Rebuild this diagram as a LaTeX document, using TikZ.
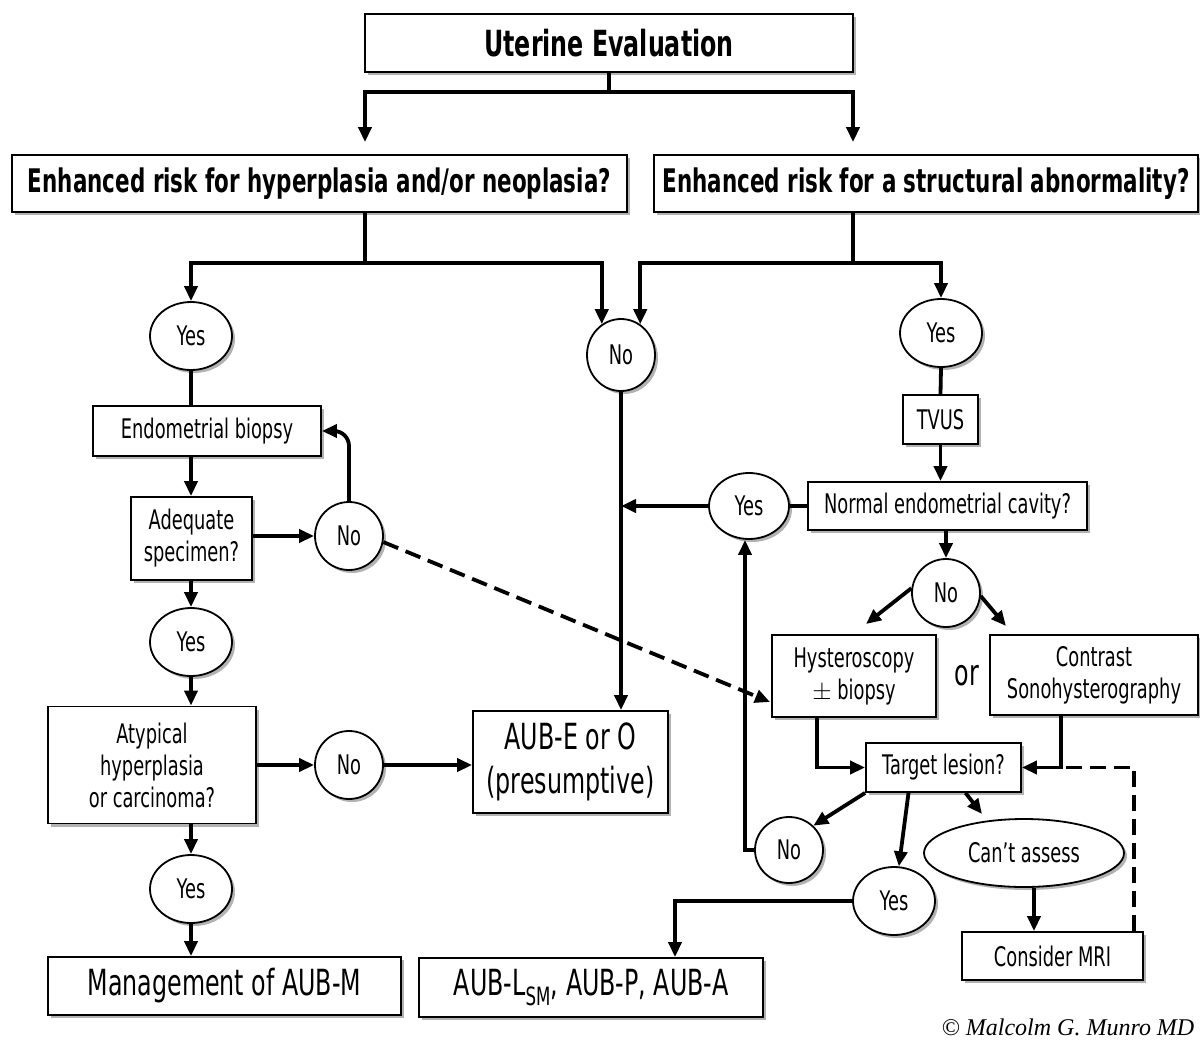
\documentclass[tikz,border=0pt]{standalone}
\usepackage{fontspec}
\setmainfont{DejaVu Sans}[FakeStretch=0.66]
\newfontfamily\crfont{Liberation Serif}
\usetikzlibrary{arrows.meta,shapes.geometric,shadows}
\newcommand\fnorm{\fontsize{27}{32}\selectfont}
\newcommand\fbig{\fontsize{36}{44}\selectfont}
\newcommand\ftitle{\fontsize{36}{40}\selectfont\bfseries}
\newcommand\fq{\fontsize{32.5}{36}\selectfont\bfseries}
\begin{document}
\begin{tikzpicture}[x=1pt,y=-1pt,
  base/.style={draw=black, line width=1.8pt, fill=white, inner sep=0pt, align=center,
    drop shadow={shadow xshift=3pt, shadow yshift=-3pt, opacity=0.3, fill=black}},
  box/.style={base, rectangle, font=\fnorm},
  bigbox/.style={base, rectangle, font=\fbig},
  circ/.style={base, ellipse, minimum width=68pt, minimum height=68pt, font=\fnorm},
  ycirc/.style={circ, minimum width=82pt},
  conn/.style={line width=3.8pt},
  arr/.style={conn, -{Triangle[length=15pt,width=13pt]}},
  darr/.style={arr, dash pattern=on 16pt off 8pt},
  dline/.style={conn, dash pattern=on 16pt off 8pt}]
\useasboundingbox[fill=white] (0,0) rectangle (1200,1041);

% nodes
\node[box, font=\ftitle, minimum width=488pt, minimum height=58pt] (title) at (609,43) {Uterine Evaluation};
\node[box, font=\fq, minimum width=615pt, minimum height=57pt] (qL) at (319.5,183.5) {Enhanced risk for hyperplasia and/or neoplasia?};
\node[box, font=\fq, minimum width=544pt, minimum height=57pt] (qR) at (926,183.5) {Enhanced risk for a structural abnormality?};

\node[ycirc] (yes1) at (191,336) {Yes};
\node[circ, minimum height=72pt] (noM) at (621,355) {No};
\node[ycirc] (yesR) at (941,333) {Yes};

\node[box, minimum width=228pt, minimum height=50pt] (endo) at (207,431) {Endometrial biopsy};
\node[box, minimum width=75pt, minimum height=49pt] (tvus) at (940.5,419.5) {TVUS};
\node[box, minimum width=121pt, minimum height=83pt] (adeq) at (191.5,538.5) {Adequate\\specimen?};
\node[circ] (noA) at (349,536) {No};
\node[ycirc, minimum width=80pt, minimum height=66pt] (yesC) at (749,506) {Yes};
\node[box, minimum width=279pt, minimum height=48pt] (normal) at (947.5,506) {Normal endometrial cavity?};
\node[circ] (noC) at (946,593) {No};
\node[ycirc] (yes2) at (191,642) {Yes};

\node[box, minimum width=164pt, minimum height=82pt] (hyst) at (854,676) {Hysteroscopy\\$\pm$ biopsy};
\node[box, minimum width=208pt, minimum height=80pt] (contrast) at (1094,675) {Contrast\\Sonohysterography};
\node[font=\fbig] (or) at (967,676) {or};

\node[box, minimum width=208pt, minimum height=117pt] (atyp) at (152,765) {Atypical\\hyperplasia\\or carcinoma?};
\node[circ] (noB) at (349,765) {No};
\node[bigbox, minimum width=195pt, minimum height=102pt] (aube) at (570.5,762) {AUB-E or O\\(presumptive)};
\node[box, minimum width=155pt, minimum height=49pt] (target) at (943.5,767.5) {Target lesion?};

\node[circ, minimum height=66pt] (noT) at (789,850) {No};
\node[base, ellipse, font=\fnorm, minimum width=200pt, minimum height=68pt] (cant) at (1024,853) {Can’t assess};
\node[ycirc] (yesT) at (894,901) {Yes};
\node[ycirc] (yes3) at (191,889) {Yes};
\node[box, minimum width=181pt, minimum height=48pt] (mri) at (1052.5,956) {Consider MRI};

\node[bigbox, minimum width=353pt, minimum height=58pt] (mgmt) at (224.5,986) {Management of AUB-M};
\node[bigbox, minimum width=344pt, minimum height=59pt] (aubl) at (591,987.5) {AUB-L\textsubscript{SM}, AUB-P, AUB-A};

\node[font=\crfont\itshape\fontsize{24}{28}\selectfont] (cr) at (1068,1027) {© Malcolm G. Munro MD};

% coordinates
\coordinate (jT) at (609,92);
\coordinate (jL) at (365,263);
\coordinate (jR) at (853,263);
\coordinate (hd) at (770,702);
\coordinate (hq) at (866,624);
\coordinate (cq) at (1006,626);
\coordinate (ct) at (982,814);

% connectors: top
\draw[conn] (title.south) -- (jT);
\draw[arr, shorten >=12pt] (jT) -| (qL.north -| 365,0);
\draw[arr, shorten >=12pt] (jT) -| (qR.north -| 853,0);
\draw[conn] (qL.south -| jL) -- (jL);
\draw[arr] (jL) -| (yes1.north);
\draw[arr] (jL) -| (noM.122);
\draw[conn] (qR.south -| jR) -- (jR);
\draw[arr] (jR) -| (noM.58);
\draw[arr] (jR) -| (yesR.north);

% left column
\draw[conn] (yes1.south) -- (yes1.south |- endo.north);
\draw[arr] (yes1.south |- endo.south) -- (yes1.south |- adeq.north);
\draw[arr] (yes1.south |- adeq.south) -- (yes2.north);
\draw[arr] (yes2.south) -- (yes2.south |- atyp.north);
\draw[arr] (yes2.south |- atyp.south) -- (yes3.north);
\draw[arr] (yes3.south) -- (yes3.south |- mgmt.north);
\draw[arr] (adeq.east |- noA.west) -- (noA.west);
\draw[arr, rounded corners=15pt] (noA.north) |- (endo.east);
\draw[darr] (noA.-10) -- (hd);
\draw[arr] (atyp.east |- noB.west) -- (noB.west);
\draw[arr] (noB.east) -- (noB.east -| aube.west);

% middle
\draw[arr] (noM.south) -- (noM.south |- aube.north);

% right column
\draw[conn] (yesR.south) -- (tvus.north);
\draw[arr] (tvus.south) -- (tvus.south |- normal.north);
\draw[conn] (normal.west) -- (yesC.east);
\draw[arr] (yesC.west) -- (yesC.west -| noM.south);
\draw[arr] (normal.south -| noC.north) -- (noC.north);
\draw[arr] (noC.172) -- (hq);
\draw[arr] (noC.-5) -- (cq);
\draw[arr] ([xshift=-37pt]hyst.south) |- (target.west);
\draw[arr] ([xshift=-33pt]contrast.south) |- (target.east);
\draw[dline] ([xshift=81.5pt]mri.north) |- ([xshift=-33pt]contrast.south |- target.east);
\draw[arr] (target.south west) -- (noT.45);
\draw[arr] ([xshift=-35pt]target.south) -- (yesT.82);
\draw[arr] ([xshift=22pt]target.south) -- (ct);
\draw[arr] ([xshift=10pt]cant.south) -- ([xshift=10pt]cant.south |- mri.north);
\draw[arr] (noT.west) -| ([xshift=-4pt]yesC.south);
\draw[arr] (yesT.west) -| ([xshift=84pt]aubl.north);
\end{tikzpicture}
\end{document}
